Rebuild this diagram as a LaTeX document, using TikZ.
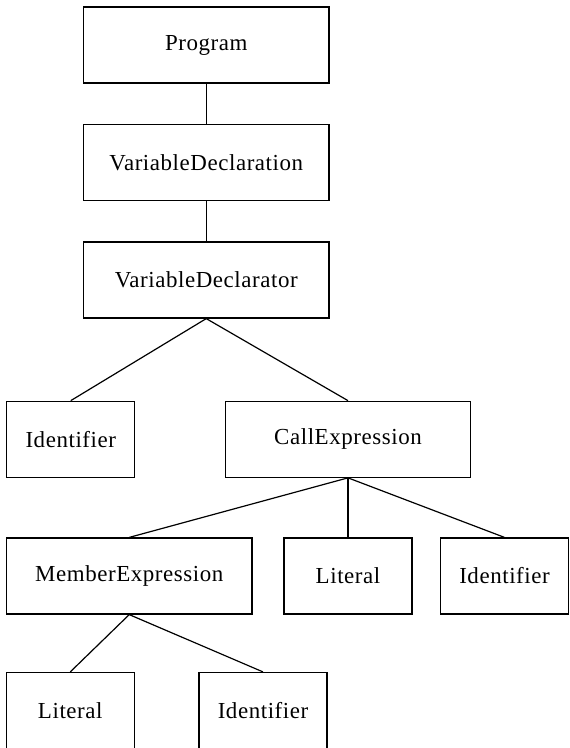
\documentclass[tikz,border=0pt]{standalone}
\usepackage{fontspec}
\setmainfont[LetterSpace=2.5]{Liberation Serif}
\usepackage{tikz}

\begin{document}
\begin{tikzpicture}[x=.75pt, y=-.75pt, line width=.9pt,
        box/.style={draw, rectangle, minimum height=57pt, inner sep=0pt, font=\fontsize{17.2}{20}\selectfont},
        wide/.style={box, minimum width=184pt},
        narrow/.style={box, minimum width=96pt}]
        \useasboundingbox (0,0) rectangle (569,748);

        \node[wide] (prog) at (206.25,45) {Program};
        \node[wide] (vdecl) at (206.25,162.5) {VariableDeclaration};
        \node[wide] (vdtor) at (206.25,280) {VariableDeclarator};

        \node[narrow] (id1) at (70.75,439.25) {Identifier};
        \node[wide] (call) at (348,439.25) {CallExpression};

        \node[wide] (mem) at (129.25,576) {MemberExpression};
        \node[narrow] (lit1) at (348,576) {Literal};
        \node[narrow] (id2) at (504.5,576) {Identifier};

        \node[narrow] (lit2) at (70.25,710.5) {Literal};
        \node[narrow] (id3) at (263,710.5) {Identifier};

        \draw (prog.south) -- (vdecl.north);
        \draw (vdecl.south) -- (vdtor.north);
        \draw (vdtor.south) -- (id1.north);
        \draw (vdtor.south) -- (call.north);
        \draw (call.south) -- (mem.north);
        \draw (call.south) -- (lit1.north);
        \draw (call.south) -- (id2.north);
        \draw (mem.south) -- (lit2.north);
        \draw (mem.south) -- (id3.north);
    \end{tikzpicture}
\end{document}
